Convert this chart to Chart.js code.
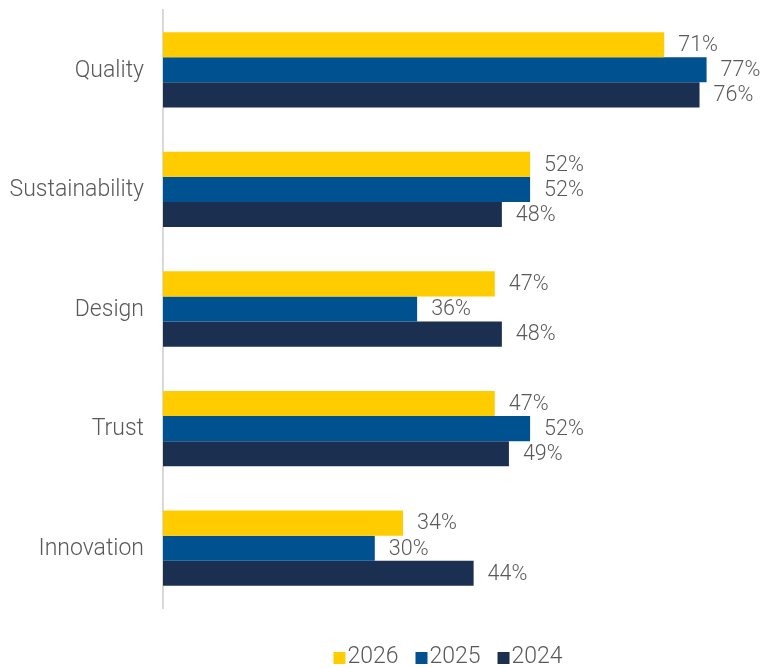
<!DOCTYPE html>
<html>
<head>
<meta charset="utf-8">
<script src="https://cdn.jsdelivr.net/npm/chart.js@4/dist/chart.umd.min.js"></script>
<style>
  html, body { margin: 0; padding: 0; background: #fff; }
  #wrap { width: 760px; height: 668px; }
</style>
</head>
<body>
<div id="wrap"><canvas id="chartCanvas"></canvas></div>
<script>
const categories = ["Quality", "Sustainability", "Design", "Trust", "Innovation"];
const seriesNames = ["2026", "2025", "2024"];
const values2026 = [71, 52, 47, 47, 34];
const values2025 = [77, 52, 36, 52, 30];
const values2024 = [76, 48, 48, 49, 44];

const colors = ["#FFCC00", "#00518F", "#1B2F50"];
const textColor = "#595959";
const fontFamily = "Roboto, 'Open Sans', sans-serif";
const legendCenterX = 448;
const legendY = 657;

// category names, percent labels and the legend row
const textLayer = {
  id: "textLayer",
  afterDatasetsDraw(chart) {
    const ctx = chart.ctx;
    const area = chart.chartArea;
    const yScale = chart.scales.y;
    ctx.save();
    ctx.fillStyle = textColor;
    ctx.textBaseline = "middle";

    // percent at the end of each bar
    ctx.font = "300 21.5px " + fontFamily;
    ctx.textAlign = "left";
    chart.data.datasets.forEach((ds, i) => {
      chart.getDatasetMeta(i).data.forEach((bar, j) => {
        ctx.fillText(ds.data[j] + "%", bar.x + 14, bar.y + 1);
      });
    });

    // category names, right aligned against the axis
    ctx.font = "300 23px " + fontFamily;
    ctx.textAlign = "right";
    categories.forEach((name, i) => {
      ctx.fillText(name, area.left - 19, yScale.getPixelForValue(i) + 1);
    });

    // legend
    ctx.font = "300 23px " + fontFamily;
    ctx.textAlign = "left";
    const box = 12, gap = 2, spacing = 17;
    const widths = chart.data.datasets.map(ds => ctx.measureText(ds.label).width);
    const total = widths.reduce((a, w) => a + box + gap + w, 0) + spacing * (widths.length - 1);
    let x = legendCenterX - total / 2;
    chart.data.datasets.forEach((ds, i) => {
      ctx.fillStyle = ds.backgroundColor;
      ctx.fillRect(x, legendY - 5, box, box);
      ctx.fillStyle = textColor;
      ctx.fillText(ds.label, x + box + gap, legendY);
      x += box + gap + widths[i] + spacing;
    });
    ctx.restore();
  }
};

const ctx = document.getElementById("chartCanvas").getContext("2d");
new Chart(ctx, {
  type: "bar",
  data: {
    labels: categories,
    datasets: [
      { label: seriesNames[0], data: values2026, backgroundColor: colors[0] },
      { label: seriesNames[1], data: values2025, backgroundColor: colors[1] },
      { label: seriesNames[2], data: values2024, backgroundColor: colors[2] }
    ]
  },
  options: {
    indexAxis: "y",
    responsive: true,
    maintainAspectRatio: false,
    animation: false,
    datasets: {
      bar: { categoryPercentage: 0.63, barPercentage: 1.0, borderWidth: 0 }
    },
    layout: { padding: { top: 10, right: 4, left: 0, bottom: 60 } },
    scales: {
      x: {
        min: 0,
        max: 84,
        display: false
      },
      y: {
        grid: { display: false, drawTicks: false },
        border: { display: true, color: "#d9d9d9", width: 2 },
        ticks: { display: false },
        afterFit(scale) { scale.width = 163; }
      }
    },
    plugins: {
      tooltip: { enabled: false },
      legend: { display: false }
    }
  },
  plugins: [textLayer]
});
</script>
</body>
</html>
